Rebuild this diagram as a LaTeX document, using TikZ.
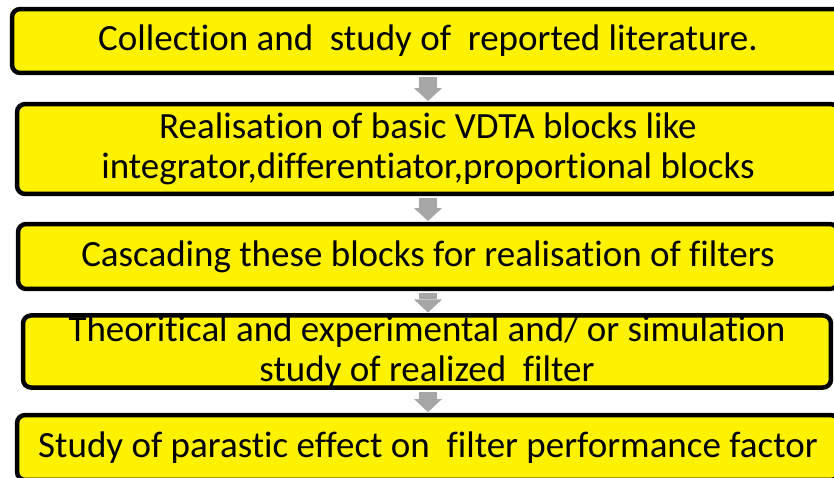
\documentclass[tikz,border=0pt]{standalone}
\usepackage{fontspec}
\setmainfont{Carlito}[Ligatures=NoCommon]
\usetikzlibrary{arrows.meta}
\definecolor{arrowgray}{HTML}{A6A6A6}

\begin{document}
\begin{tikzpicture}[x=1pt,y=-1pt,
                    box/.style={fill=yellow,inner sep=0pt,align=center,rounded corners=8pt,
                                font=\fontsize{37}{40}\selectfont},
                    rim/.style={draw=black,line width=4.5pt,rounded corners=8pt},
                    flow/.style={draw=arrowgray,line width=18pt,
                                 -{Triangle[width=28pt,length=13pt,line width=0pt]},
                                 shorten <=4pt,shorten >=3pt}]
  \clip (0,0) rectangle (834,477);

  \node[box,minimum width=831.5pt,minimum height=63.5pt] (collect)   at (428,41)    {Collection and\ \ study of\ \ reported literature.};
  \node[box,minimum width=821.5pt,minimum height=89.5pt] (realise)   at (428,149)   {Realisation of basic VDTA blocks like\\integrator,differentiator,proportional blocks};
  \node[box,minimum width=819.5pt,minimum height=64.5pt] (cascade)   at (428,256.5) {Cascading these blocks for realisation of filters};
  \node[box,minimum width=807.5pt,minimum height=64.5pt] (theory)    at (427,351.5) {Theoritical and experimental and/ or simulation\\study of realized\ \ filter};
  \node[box,minimum width=821.5pt,minimum height=64.5pt] (parasitic) at (428,447.5) {Study of parastic effect on\ \ filter performance factor};

  % borders over the text
  \foreach \n in {collect,realise,cascade,theory,parasitic}
    \draw[rim] (\n.north west) rectangle (\n.south east);

  \draw[flow] (collect.south)   -- (realise.north);
  \draw[flow] (realise.south)   -- (cascade.north);
  \draw[flow] (cascade.south)   -- (cascade.south |- theory.north);
  \draw[flow] (theory.south -| parasitic.north) -- (parasitic.north);
\end{tikzpicture}
\end{document}
